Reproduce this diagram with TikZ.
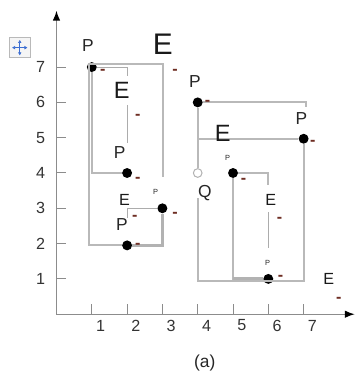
\documentclass[tikz,border=0pt]{standalone}
\usepackage{fontspec}
\setmainfont{Liberation Sans}
\usetikzlibrary{arrows.meta}

\definecolor{dashred}{RGB}{110,45,35}
\definecolor{movblue}{RGB}{60,110,210}

\begin{document}
\begin{tikzpicture}[>={Latex[length = 8pt, width = 6pt, black]},
    axis/.style = {draw = gray!90, line width = 1.1pt},
    tick/.style = {draw = gray!90, line width = 0.8pt},
    edge/.style = {draw = gray!55, line width = 1.5pt},
    fine edge/.style = {draw = gray!65, line width = 0.7pt},
    heavy edge/.style = {draw = gray!60, line width = 2.4pt},
    dot/.style = {circle, fill = black, inner sep = 0pt, minimum size = 8pt},
    hollow/.style = {circle, draw = gray!60, fill = white, line width = 0.8pt, inner sep = 0pt, minimum size = 7pt},
    ticklab/.style = {font = \fontsize{13}{13}\selectfont, text = black!80},
    plab/.style = {font = \fontsize{14}{14}\selectfont, text = black!85},
    tinyP/.style = {font = \fontsize{6}{6}\selectfont, text = black!85},
    bigE/.style = {font = \fontsize{24}{24}\selectfont, text = black!90},
    midE/.style = {font = \fontsize{19}{19}\selectfont, text = black!90},
    cutE/.style = {font = \fontsize{13}{13}\selectfont, text = black!90},
    dashmark/.style = {font = \fontsize{13}{13}\bfseries, text = dashred, inner sep = 0pt}]

    \useasboundingbox (-1.6, -1.75) rectangle (8.5, 8.9);

    % axes
    \coordinate (origin) at (0, 0);
    \coordinate (xend) at (8.45, 0);
    \coordinate (yend) at (0, 8.6);
    \draw [axis, ->] (origin)  --  (xend);
    \draw [axis, ->] (origin)  --  (yend);

    \foreach \k in {1,...,7}{
        \draw [tick] (\k, 0)  --  (\k, 0.28);
        \draw [tick] (0, \k)  --  (0.28, \k);
        \node [ticklab] (xl\k) at (\k + 0.25, -0.32) {\k};
        \node [ticklab] (yl\k) at (-0.45, \k) {\k};
    }

    % move icon
    \node [draw = gray!55, fill = gray!8, minimum size = 0.57cm, inner sep = 0pt] (move) at (-1.04, 7.55) {};
    \draw [movblue, line width = 0.7pt, {Latex[length = 2.5pt, width = 3pt]}-{Latex[length = 2.5pt, width = 3pt]}] ([xshift = 2pt]move.west)  --  ([xshift = -2pt]move.east);
    \draw [movblue, line width = 0.7pt, {Latex[length = 2.5pt, width = 3pt]}-{Latex[length = 2.5pt, width = 3pt]}] ([yshift = -2pt]move.north)  --  ([yshift = 2pt]move.south);

    % points
    \node [dot] (p17) at (1, 7) {};
    \node [dot] (p24) at (2, 4) {};
    \node [dot] (p33) at (3, 3) {};
    \node [dot] (p22) at (2, 1.95) {};
    \node [dot] (p46) at (4, 6) {};
    \node [dot] (p75) at (7, 4.97) {};
    \node [hollow] (q44) at (4, 4) {};
    \node [dot] (p54) at (5, 4) {};
    \node [dot] (p61) at (6, 1) {};

    % left group
    \coordinate (c1) at (0.91, 7.09);
    \coordinate (c2) at (3.02, 3.9);
    \coordinate (t1) at (2, 6.75);
    \coordinate (t2) at (2, 5.93);
    \coordinate (t3) at (2, 4.86);
    \coordinate (s1) at (2.02, 2.72);
    \draw [edge] (p22) -| (c1) -| (c2);
    \draw [edge] (p17) |- (p24);
    \draw [fine edge] (p17) -| (t1);
    \draw [fine edge] (t2)  --  (t3);
    \draw [fine edge] (s1) |- (p33);
    \draw [heavy edge] (p33) |- (p22);

    % right group
    \coordinate (c3) at (7.06, 5.87);
    \coordinate (b1) at (0, 0.94);
    \coordinate (b2) at (4, 3.3);
    \coordinate (c6) at (6, 3.67);
    \coordinate (t4) at (6, 2.89);
    \coordinate (t5) at (6, 1.88);
    \draw [edge] (p46) -| (c3);
    \draw [edge] (p46) |- (p75);
    \draw [edge] (p46)  --  (q44);
    \draw [edge] (p75)  --  (p75 |- b1) -| (b2);
    \draw [edge] (p54) -| (c6);
    \draw [fine edge] (t4)  --  (t5);
    \draw [edge] (p54) |- (p61);
    \draw [heavy edge] (p54 |- p61)  --  (p61);

    % labels
    \node [bigE] (e1) at (3.01, 7.65) {E};
    \node [plab] (lp17) at (0.89, 7.62) {P};
    \node [midE] (e2) at (1.85, 6.35) {E};
    \node [plab] (lp24) at (1.79, 4.59) {P};
    \node [cutE] (e3) at (1.93, 3.24) {E};
    \node [tinyP] (lp33) at (2.81, 3.47) {P};
    \node [plab] (lp22) at (1.85, 2.53) {P};
    \node [plab] (lp46) at (3.92, 6.58) {P};
    \node [plab] (lp75) at (6.94, 5.55) {P};
    \node [midE] (e4) at (4.71, 5.13) {E};
    \node [tinyP] (lp54) at (4.85, 4.42) {P};
    \node [plab] (lq) at (4.2, 3.43) {Q};
    \node [cutE] (e5) at (6.07, 3.23) {E};
    \node [tinyP] (lp61) at (5.98, 1.45) {P};
    \node [cutE] (e6) at (7.71, 0.99) {E};

    \foreach \x/\y [count = \i] in {1.31/6.86, 3.36/6.86, 2.3/5.58, 2.3/3.8, 3.36/2.81, 2.22/2.72, 2.3/1.93, 4.28/5.98, 7.26/4.85, 5.3/3.78, 6.32/2.67, 6.35/1.03, 8.0/0.41}{
        \node [dashmark] (dash\i) at (\x, \y) {-};
    }

    \node [plab] (caption) at (4.2, -1.38) {(a)};
\end{tikzpicture}
\end{document}
